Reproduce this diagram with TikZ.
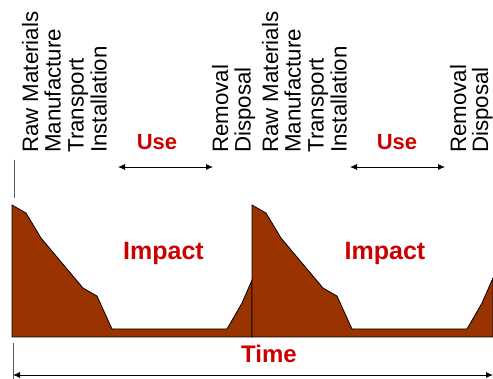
\documentclass[tikz,border=0pt]{standalone}
\usepackage{fontspec}
\setmainfont{Liberation Sans}
\usepackage{xcolor}
\usetikzlibrary{arrows.meta}
\definecolor{impbrown}{RGB}{153,51,0}
\definecolor{impred}{RGB}{204,0,0}

\begin{document}
\begin{tikzpicture}[x=1pt,y=-1pt,
	stage/.style={rotate=90,anchor=base west,inner sep=0pt,font=\fontsize{22.3}{24}\selectfont},
	redlabel/.style={text=impred,anchor=base,inner sep=0pt,font=\bfseries\fontsize{24}{26}\selectfont},
	span/.style={{Latex[length=7pt,width=6pt]}-{Latex[length=7pt,width=6pt]},line width=0.8pt}]
	\useasboundingbox (0,0) rectangle (493,379);
	
	% first life cycle
	\coordinate (A0) at (12,337);
	\coordinate (A1) at (12,205);
	\coordinate (A2) at (26,213);
	\coordinate (A3) at (41,238);
	\coordinate (A4) at (83,288);
	\coordinate (A5) at (97,296);
	\coordinate (A6) at (112,329);
	\coordinate (A7) at (227,329);
	\coordinate (A8) at (242,303);
	\coordinate (A9) at (252,280);
	\coordinate (A10) at (252,337);
	% second life cycle
	\coordinate (B1) at (252,205);
	\coordinate (B2) at (266,213);
	\coordinate (B3) at (281,238);
	\coordinate (B4) at (323,288);
	\coordinate (B5) at (337,296);
	\coordinate (B6) at (352,329);
	\coordinate (B7) at (467,329);
	\coordinate (B8) at (482,303);
	\coordinate (B9) at (493,278);
	\coordinate (B10) at (493,337);
	
	\draw[fill=impbrown,line width=0.8pt] (A0) -- (A1) -- (A2) -- (A3) -- (A4) -- (A5) -- (A6) -- (A7) -- (A8) -- (A9) -- (A10) -- cycle;
	\draw[fill=impbrown,line width=0.8pt] (A10) -- (B1) -- (B2) -- (B3) -- (B4) -- (B5) -- (B6) -- (B7) -- (B8) -- (B9) -- (B10) -- cycle;
	
	% ticks and arrows
	\coordinate (T1) at (14,160);
	\coordinate (T2) at (14,198);
	\coordinate (T3) at (13,343);
	\coordinate (T4) at (13,379);
	\draw[gray!70!black,line width=1pt] (T1) -- (T2);
	\draw[gray!70!black,line width=1pt] (T3) -- (T4);
	
	\coordinate (U1) at (118,167);
	\coordinate (U2) at (213,167);
	\coordinate (U3) at (350,167);
	\coordinate (U4) at (445,167);
	\coordinate (S) at (13,375);
	\coordinate (E) at (493,375);
	\draw[span] (U1) -- (U2);
	\draw[span] (U3) -- (U4);
	\draw[span] (S) -- (E);
	
	% stages
	\node (raw1) at (38,153) [stage] {Raw Materials};
	\node (man1) at (60.5,153) [stage] {Manufacture};
	\node (tra1) at (83.5,153) [stage] {Transport};
	\node (ins1) at (106.5,153) [stage] {Installation};
	\node (rem1) at (228,153) [stage] {Removal};
	\node (dis1) at (250.5,153) [stage] {Disposal};
	\node (raw2) at (278,153) [stage] {Raw Materials};
	\node (man2) at (300.5,153) [stage] {Manufacture};
	\node (tra2) at (323.5,153) [stage] {Transport};
	\node (ins2) at (346.5,153) [stage] {Installation};
	\node (rem2) at (466,153) [stage] {Removal};
	\node (dis2) at (488,153) [stage] {Disposal};
	
	\node (use1) at (157,150) [redlabel,font=\bfseries\fontsize{22}{24}\selectfont] {Use};
	\node (use2) at (397,150) [redlabel,font=\bfseries\fontsize{22}{24}\selectfont] {Use};
	\node (imp1) at (163.5,260) [redlabel,font=\bfseries\fontsize{25}{27}\selectfont] {Impact};
	\node (imp2) at (385,260) [redlabel,font=\bfseries\fontsize{25}{27}\selectfont] {Impact};
	\node (time) at (269,363) [redlabel] {Time};
\end{tikzpicture}
\end{document}
